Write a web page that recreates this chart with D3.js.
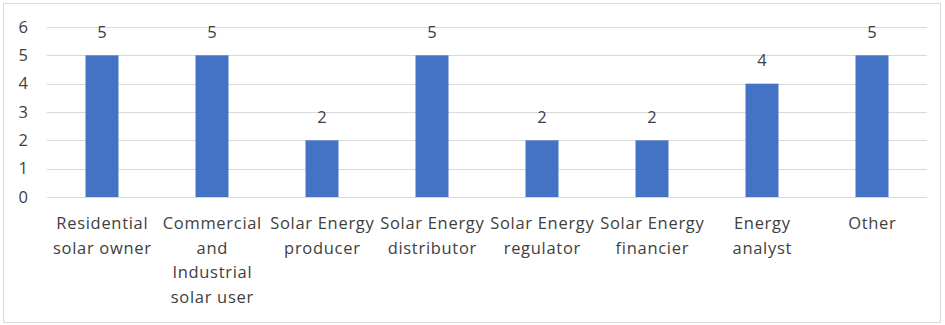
<!DOCTYPE html>
<html>
<head>
<meta charset="utf-8">
<script src="https://cdn.jsdelivr.net/npm/d3@7"></script>
<style>
  html, body { margin: 0; padding: 0; background: #fff; }
  svg text { font-family: "Open Sans", Lato, sans-serif; fill: #404040; }
</style>
</head>
<body>
<svg id="chart" width="945" height="325"></svg>
<script>
// Respondent categories (label lines) and counts
const categories = [
  ["Residential", "solar owner"],
  ["Commercial", "and", "Industrial", "solar user"],
  ["Solar Energy", "producer"],
  ["Solar Energy", "distributor"],
  ["Solar Energy", "regulator"],
  ["Solar Energy", "financier"],
  ["Energy", "analyst"],
  ["Other"]
];
const counts = [5, 5, 2, 5, 2, 2, 4, 5];
const yTicks = [0, 1, 2, 3, 4, 5, 6];

const svg = d3.select("#chart");
const W = 945, H = 325;
const margin = { left: 47, right: 18, top: 27, bottom: 128 };
const FONT = "'Open Sans', Lato, sans-serif";

// chart-area frame
svg.append("rect")
  .attr("x", 3.5).attr("y", 3.5)
  .attr("width", 937).attr("height", 319)
  .attr("fill", "#fff")
  .attr("stroke", "#d9d9d9").attr("stroke-width", 1);

const keys = categories.map((c, i) => i);
const x = d3.scaleBand()
  .domain(keys)
  .range([margin.left, W - margin.right])
  .paddingInner(0.7).paddingOuter(0.35);

const y = d3.scaleLinear()
  .domain([0, 6])
  .range([H - margin.bottom, margin.top]);

// horizontal gridlines
svg.append("g")
  .selectAll("line")
  .data(yTicks)
  .join("line")
  .attr("x1", margin.left).attr("x2", W - margin.right)
  .attr("y1", d => Math.round(y(d)) + 0.5)
  .attr("y2", d => Math.round(y(d)) + 0.5)
  .attr("stroke", "#d9d9d9").attr("stroke-width", 1);

// y axis labels
const yAxis = d3.axisLeft(y).tickValues(yTicks).tickFormat(d3.format("d"))
  .tickSize(0).tickPadding(0);
const gy = svg.append("g")
  .attr("transform", `translate(${margin.left - 19},0)`)
  .call(yAxis);
gy.select(".domain").remove();
gy.selectAll("text")
  .style("font-family", FONT)
  .style("font-size", "16.5px")
  .attr("fill", "#404040");

// bars
svg.append("g")
  .selectAll("rect")
  .data(counts)
  .join("rect")
  .attr("x", (d, i) => x(i))
  .attr("width", x.bandwidth())
  .attr("y", d => y(d))
  .attr("height", d => y(0) - y(d))
  .attr("fill", "#4472C4");

// value labels above bars
svg.append("g")
  .selectAll("text")
  .data(counts)
  .join("text")
  .attr("x", (d, i) => x(i) + x.bandwidth() / 2)
  .attr("y", d => y(d) - 22)
  .attr("text-anchor", "middle")
  .attr("dominant-baseline", "middle")
  .style("font-size", "16.5px")
  .text(d => d);

// category labels (multi-line)
const xAxis = d3.axisBottom(x).tickSize(0).tickFormat("");
const gx = svg.append("g")
  .attr("transform", `translate(0,${y(0)})`)
  .call(xAxis);
gx.select(".domain").remove();

const catG = svg.append("g");
categories.forEach((lines, i) => {
  const t = catG.append("text")
    .attr("text-anchor", "middle")
    .style("font-size", "16.5px")
    .style("letter-spacing", "0.7px");
  lines.forEach((ln, j) => {
    t.append("tspan")
      .attr("x", x(i) + x.bandwidth() / 2 + 0.35)
      .attr("y", y(0) + 28 + j * 24.5)
      .attr("dominant-baseline", "middle")
      .text(ln);
  });
});
</script>
</body>
</html>
